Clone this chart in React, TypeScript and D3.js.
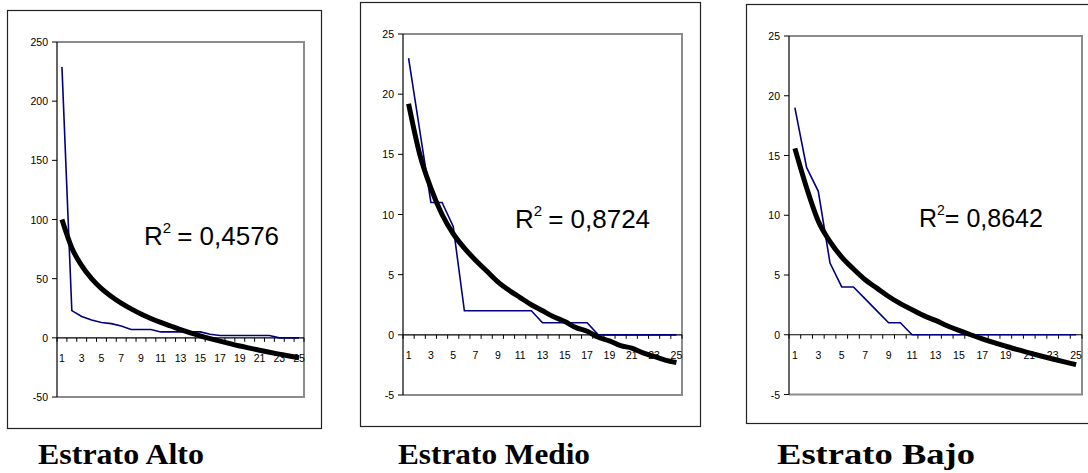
import React from "react";
import * as d3 from "d3";

const categories = d3.range(1, 26);
const xTickLabels = [1, 3, 5, 7, 9, 11, 13, 15, 17, 19, 21, 23, 25];

const altoValues = [229, 23, 18, 15, 13, 12, 10, 7, 7, 7, 5, 5, 5, 5, 5, 3, 2, 2, 2, 2, 2, 2, 0, 0, 0];
const altoTrend = [100, 76, 61, 50, 41.6, 35, 29.4, 24.5, 20.2, 16.4, 13, 10, 7, 4.2, 1.7, -0.6, -2.8, -4.9, -6.9, -8.7, -10.5, -12.2, -13.8, -15.4, -16.8];
const altoTicks = [-50, 0, 50, 100, 150, 200, 250];

const medioValues = [23, 17, 11, 11, 9, 2, 2, 2, 2, 2, 2, 2, 1, 1, 1, 1, 1, 0, 0, 0, 0, 0, 0, 0, 0];
const medioTrend = [19.2, 15.0, 12.2, 10.0, 8.4, 7.2, 6.2, 5.3, 4.4, 3.7, 3.1, 2.5, 2.0, 1.5, 1.1, 0.6, 0.3, -0.2, -0.5, -0.9, -1.1, -1.5, -1.8, -2.1, -2.3];
const medioTicks = [-5, 0, 5, 10, 15, 20, 25];

const bajoValues = [19, 14, 12, 6, 4, 4, 3, 2, 1, 1, 0, 0, 0, 0, 0, 0, 0, 0, 0, 0, 0, 0, 0, 0, 0];
const bajoTrend = [15.6, 12.3, 9.5, 7.8, 6.5, 5.5, 4.6, 3.9, 3.2, 2.6, 2.1, 1.6, 1.2, 0.75, 0.36, 0.0, -0.34, -0.66, -0.96, -1.25, -1.52, -1.78, -2.03, -2.27, -2.5];
const bajoTicks = [-5, 0, 5, 10, 15, 20, 25];

const titles = ["Estrato Alto", "Estrato Medio", "Estrato Bajo"];
const r2Labels = ["= 0,4576", "= 0,8724", "= 0,8642"];

type PanelSpec = {
  box: [number, number, number, number];
  plot: { left: number; right: number; top: number; bottom: number };
  domain: [number, number];
  ticks: number[];
  values: number[];
  trend: number[];
  r2: string;
  r2Pos: [number, number];
  r2Gap: number;
  r2Size: number;
  title: string;
  titlePos: [number, number];
  titleWidth: number;
};

const panels: PanelSpec[] = [
  {
    box: [7, 10, 321, 428],
    plot: { left: 57, right: 304, top: 42, bottom: 397 },
    domain: [-50, 250],
    ticks: altoTicks,
    values: altoValues,
    trend: altoTrend,
    r2: r2Labels[0],
    r2Pos: [144, 245],
    r2Gap: 6,
    r2Size: 26,
    title: titles[0],
    titlePos: [38, 464],
    titleWidth: 166,
  },
  {
    box: [360, 2, 700, 426],
    plot: { left: 403, right: 682, top: 34, bottom: 395 },
    domain: [-5, 25],
    ticks: medioTicks,
    values: medioValues,
    trend: medioTrend,
    r2: r2Labels[1],
    r2Pos: [515, 228],
    r2Gap: 6,
    r2Size: 26,
    title: titles[1],
    titlePos: [398, 464],
    titleWidth: 192,
  },
  {
    box: [746, 4, 1100, 423],
    plot: { left: 789, right: 1082, top: 36, bottom: 394.5 },
    domain: [-5, 25],
    ticks: bajoTicks,
    values: bajoValues,
    trend: bajoTrend,
    r2: r2Labels[2],
    r2Pos: [919, 227],
    r2Gap: 0,
    r2Size: 25,
    title: titles[2],
    titlePos: [777, 464],
    titleWidth: 198,
  },
];

function Panel({ p }: { p: PanelSpec }) {
  const { plot } = p;
  const x = d3
    .scaleBand<number>()
    .domain(categories)
    .range([plot.left, plot.right])
    .paddingInner(0)
    .paddingOuter(0);
  const cx = (c: number) => (x(c) as number) + x.bandwidth() / 2;
  const y = d3.scaleLinear().domain(p.domain).range([plot.bottom, plot.top]);
  const y0 = y(0);

  const line = d3
    .line<number>()
    .x((_, i) => cx(categories[i]))
    .y((v) => y(v));
  const trendLine = d3
    .line<number>()
    .x((_, i) => cx(categories[i]))
    .y((v) => y(v))
    .curve(d3.curveMonotoneX);

  const boundaries = d3.range(0, categories.length + 1).map((i) => plot.left + i * x.bandwidth());
  const supSize = Math.round(p.r2Size * 0.58);

  return (
    <g>
      <rect
        x={p.box[0] + 0.5}
        y={p.box[1] + 0.5}
        width={p.box[2] - p.box[0]}
        height={p.box[3] - p.box[1]}
        fill="white"
        stroke="#222"
        strokeWidth={1.2}
      />
      <path
        d={`M${plot.left},${plot.top}H${plot.right}V${plot.bottom}H${plot.left}`}
        fill="none"
        stroke="#8c8c8c"
        strokeWidth={2}
      />
      <line x1={plot.left} x2={plot.left} y1={plot.top} y2={plot.bottom} stroke="#000" strokeWidth={1.2} />
      {p.ticks.map((t) => (
        <g key={t}>
          <line x1={plot.left - 5} x2={plot.left} y1={y(t)} y2={y(t)} stroke="#000" strokeWidth={1} />
          <text
            x={plot.left - 9}
            y={y(t)}
            textAnchor="end"
            dominantBaseline="central"
            fontFamily="'Liberation Sans', Arial, sans-serif"
            fontSize={10.5}
            fill="#000"
          >
            {t}
          </text>
        </g>
      ))}
      <line x1={plot.left} x2={plot.right} y1={y0} y2={y0} stroke="#000" strokeWidth={1.2} />
      {boundaries.map((bx, i) => (
        <line key={i} x1={bx} x2={bx} y1={y0} y2={y0 + 4} stroke="#000" strokeWidth={1} />
      ))}
      {xTickLabels.map((c) => (
        <text
          key={c}
          x={cx(c)}
          y={y0 + 20}
          textAnchor="middle"
          dominantBaseline="central"
          fontFamily="'Liberation Sans', Arial, sans-serif"
          fontSize={10.5}
          fill="#000"
        >
          {c}
        </text>
      ))}
      <path d={line(p.values) || ""} fill="none" stroke="#000080" strokeWidth={1.6} />
      <path
        d={trendLine(p.trend) || ""}
        fill="none"
        stroke="#000"
        strokeWidth={5}
        strokeLinecap="butt"
        strokeLinejoin="round"
      />
      <text
        x={p.r2Pos[0]}
        y={p.r2Pos[1]}
        fontFamily="'Liberation Sans', Arial, sans-serif"
        fontSize={p.r2Size}
        fill="#000"
      >
        R
        <tspan fontSize={supSize} dy={-12}>
          2
        </tspan>
        <tspan dy={12} dx={p.r2Gap}>
          {p.r2}
        </tspan>
      </text>
      <text
        x={p.titlePos[0]}
        y={p.titlePos[1]}
        fontFamily="'Liberation Serif', 'Times New Roman', serif"
        fontWeight="bold"
        fontSize={30}
        textLength={p.titleWidth}
        lengthAdjust="spacingAndGlyphs"
        fill="#000"
      >
        {p.title}
      </text>
    </g>
  );
}

export default function App() {
  return (
    <svg
      width={1088}
      height={473}
      viewBox="0 0 1088 473"
      style={{ position: "absolute", left: 0, top: 0, background: "white" }}
    >
      <rect x={0} y={0} width={1088} height={473} fill="white" />
      {panels.map((p, i) => (
        <Panel key={i} p={p} />
      ))}
    </svg>
  );
}
